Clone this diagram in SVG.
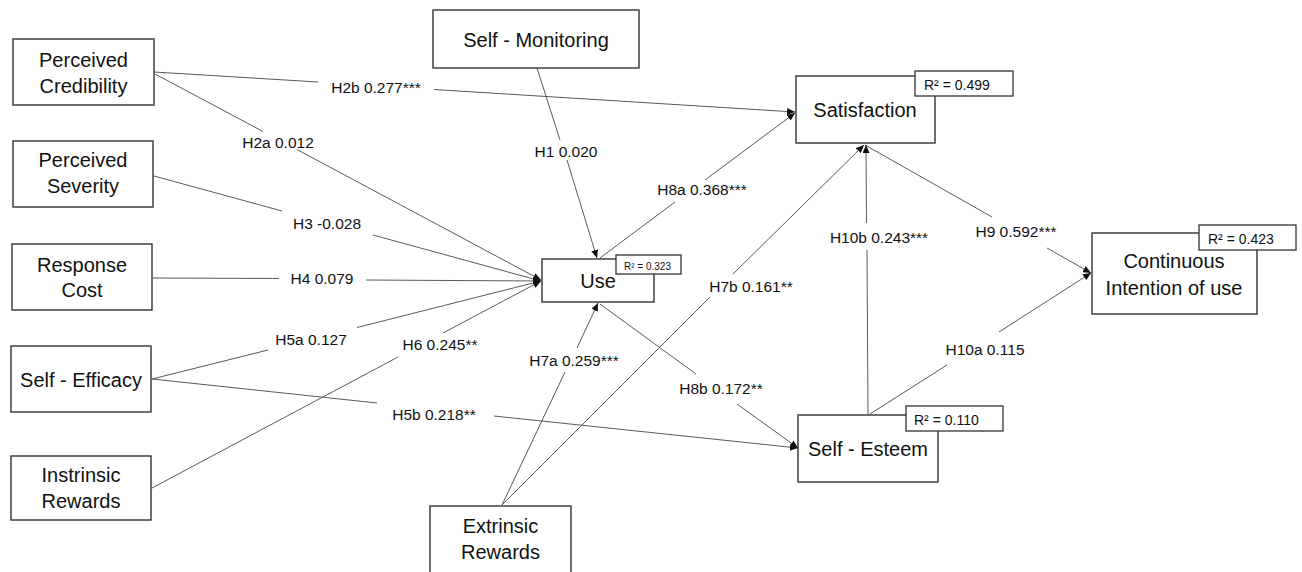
<svg xmlns="http://www.w3.org/2000/svg" width="1302" height="572" viewBox="0 0 1302 572">
<style>
.box{fill:#fff;stroke:#333;stroke-width:1.4}
.r2{fill:#fff;stroke:#333;stroke-width:1.3}
.t{font-family:"Liberation Sans",Arial,sans-serif;font-size:20px;fill:#111;text-anchor:middle}
.rt{font-family:"Liberation Sans",Arial,sans-serif;font-size:14px;fill:#111}
.rs{font-family:"Liberation Sans",Arial,sans-serif;font-size:10px;fill:#111}
.c{fill:none;stroke:#5a5a5a;stroke-width:1}
.a{marker-end:url(#arr)}
.l{font-family:"Liberation Sans",Arial,sans-serif;font-size:15.5px;fill:#111;text-anchor:middle}
</style>
<defs>
<marker id="arr" markerUnits="userSpaceOnUse" markerWidth="8" markerHeight="7" refX="8" refY="3.5" orient="auto">
<path d="M0,0 L8,3.5 L0,7 z" fill="#111"/>
</marker>
</defs>
<rect width="1302" height="572" fill="#fff"/>
<g id="connectors">
<path class="c a" d="M154,72 L318,82 M434,89.5 L795,112"/>
<path class="c a" d="M155,74 L263,131.5 M297,149.5 L541,280"/>
<path class="c a" d="M154,176 L282,211 M373,235 L541,281"/>
<path class="c a" d="M153,278 L279,278.5 M366,280 L541,281"/>
<path class="c a" d="M152,379 L268,350 M357,327.5 L541,281"/>
<path class="c a" d="M152,379 L377,403 M494,416 L798,448"/>
<path class="c a" d="M152,488 L398,357 M443,333 L541,281"/>
<path class="c a" d="M537,68 L560,140 M567,160 L597,258"/>
<path class="c a" d="M600,258 L675,202 M705,180 L795,113"/>
<path class="c a" d="M502,505 L565,372 M577,348 L598,303"/>
<path class="c a" d="M502,505 L710,297 M733,274 L864,145"/>
<path class="c a" d="M600,304 L696,374 M737,404 L798,448"/>
<path class="c a" d="M868,415 L867,250 M866.5,223 L866,145"/>
<path class="c a" d="M865,145 L992,217 M1047,248 L1091,273"/>
<path class="c a" d="M870,414 L947,365 M999,332 L1091,273"/>
<text class="l" x="376" y="93">H2b 0.277***</text>
<text class="l" x="278" y="148">H2a 0.012</text>
<text class="l" x="327" y="229">H3 -0.028</text>
<text class="l" x="322" y="284">H4 0.079</text>
<text class="l" x="311" y="345">H5a 0.127</text>
<text class="l" x="434" y="420">H5b 0.218**</text>
<text class="l" x="440" y="350">H6 0.245**</text>
<text class="l" x="566" y="157">H1 0.020</text>
<text class="l" x="702" y="195">H8a 0.368***</text>
<text class="l" x="574" y="366">H7a 0.259***</text>
<text class="l" x="751" y="292">H7b 0.161**</text>
<text class="l" x="721" y="394">H8b 0.172**</text>
<text class="l" x="879" y="243">H10b 0.243***</text>
<text class="l" x="1016" y="237">H9 0.592***</text>
<text class="l" x="985" y="355">H10a 0.115</text>
</g>
<g id="perceived-credibility">
<rect class="box" x="13" y="39" width="141" height="66"/>
<text class="t" x="83.5" y="67">Perceived</text>
<text class="t" x="83.5" y="93">Credibility</text>
</g>
<g id="perceived-severity">
<rect class="box" x="13" y="141" width="140" height="66"/>
<text class="t" x="83" y="167">Perceived</text>
<text class="t" x="83" y="193">Severity</text>
</g>
<g id="response-cost">
<rect class="box" x="12" y="244" width="140" height="66"/>
<text class="t" x="82" y="272">Response</text>
<text class="t" x="82" y="297">Cost</text>
</g>
<g id="self-efficacy">
<rect class="box" x="11" y="346" width="140" height="66"/>
<text class="t" x="81" y="387">Self - Efficacy</text>
</g>
<g id="instrinsic-rewards">
<rect class="box" x="11" y="456" width="140" height="64"/>
<text class="t" x="81" y="482">Instrinsic</text>
<text class="t" x="81" y="508">Rewards</text>
</g>
<g id="self-monitoring">
<rect class="box" x="433" y="10" width="206" height="58"/>
<text class="t" x="536" y="47">Self - Monitoring</text>
</g>
<g id="extrinsic-rewards">
<rect class="box" x="430" y="506" width="141" height="70"/>
<text class="t" x="500.5" y="533">Extrinsic</text>
<text class="t" x="500.5" y="559">Rewards</text>
</g>
<g id="use">
<rect class="box" x="542" y="259" width="112" height="43"/>
<text class="t" x="598" y="288">Use</text>
<rect class="r2" x="616" y="255" width="65" height="19"/>
<text class="rs" x="624" y="269.5">R² = 0.323</text>
</g>
<g id="satisfaction">
<rect class="box" x="796" y="76" width="139" height="67"/>
<text class="t" x="865" y="117">Satisfaction</text>
<rect class="r2" x="915" y="71" width="98" height="25"/>
<text class="rt" x="924" y="90">R² = 0.499</text>
</g>
<g id="self-esteem">
<rect class="box" x="798" y="415" width="140" height="67"/>
<text class="t" x="868" y="456">Self - Esteem</text>
<rect class="r2" x="906" y="406" width="97" height="25"/>
<text class="rt" x="914" y="425">R² = 0.110</text>
</g>
<g id="continuous-intention">
<rect class="box" x="1092" y="233" width="165" height="81"/>
<text class="t" x="1174" y="268">Continuous</text>
<text class="t" x="1174" y="295">Intention of use</text>
<rect class="r2" x="1199" y="225" width="97" height="25"/>
<text class="rt" x="1208" y="244">R² = 0.423</text>
</g>
</svg>
